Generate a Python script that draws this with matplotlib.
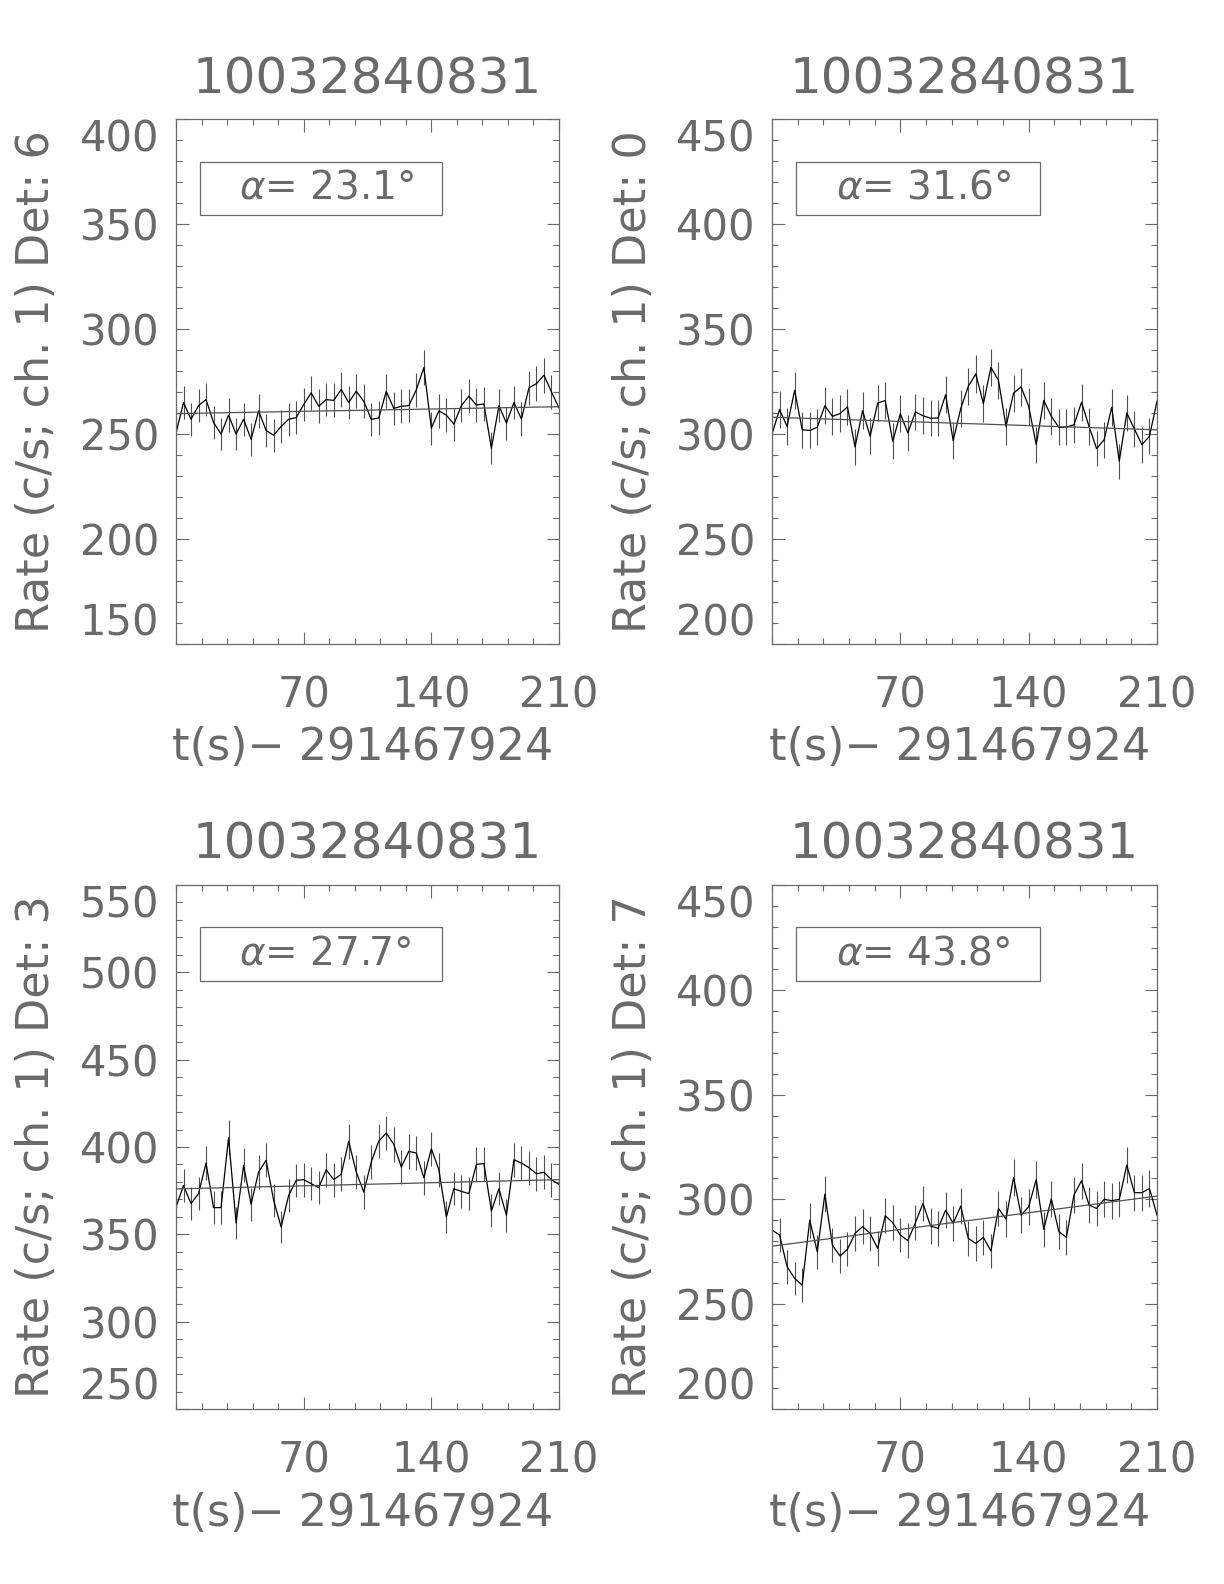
import numpy as np
import matplotlib
matplotlib.use('Agg')
import matplotlib.pyplot as plt
from matplotlib.patches import Rectangle
from matplotlib.ticker import MultipleLocator

# bin width (s) and time offset
bin_width = 4.096
t0_label = 't(s)\u2212 291467924'
burst_id = '10032840831'

# Rates (c/s, channel 1)
rate_det6 = [250.4, 265.0, 257.0, 263.5, 266.4, 255.5, 250.0, 259.0, 250.0, 257.0,
             247.5, 261.0, 251.7, 249.4, 253.6, 257.0, 257.8, 264.0, 269.6, 263.2,
             266.4, 266.0, 271.2, 265.0, 270.4, 265.6, 257.0, 257.6, 270.3, 262.2,
             263.2, 263.5, 271.0, 281.6, 252.8, 261.0, 259.0, 254.7, 263.5, 268.0,
             263.8, 264.3, 243.2, 263.5, 255.2, 265.0, 257.1, 272.0, 274.0, 278.0,
             270.0, 262.4]
rate_det0 = [300.0, 311.6, 303.6, 320.8, 302.0, 301.7, 303.2, 313.5, 308.4, 309.7,
             312.9, 293.8, 311.1, 298.9, 314.8, 315.9, 296.5, 309.7, 300.5, 310.5,
             308.7, 307.5, 307.6, 318.7, 296.8, 312.1, 322.7, 328.6, 314.4, 331.7,
             325.6, 303.6, 319.5, 322.4, 313.2, 294.9, 316.0, 308.4, 303.2, 303.3,
             304.4, 315.1, 303.6, 293.0, 297.3, 312.7, 287.0, 310.0, 302.4, 294.9,
             298.9, 315.6]
rate_det3 = [365.6, 378.0, 367.6, 373.3, 390.8, 365.3, 365.3, 405.3, 356.5, 389.5,
             367.2, 385.7, 392.4, 369.5, 354.2, 372.3, 380.9, 381.3, 379.0, 376.7,
             387.0, 381.3, 384.4, 403.2, 385.7, 374.2, 391.4, 403.4, 408.0, 401.5,
             388.5, 397.5, 396.6, 382.4, 399.0, 387.0, 359.9, 376.1, 374.6, 373.3,
             390.1, 390.5, 363.4, 376.1, 360.9, 392.7, 390.8, 388.2, 384.7, 385.5,
             381.3, 378.6]
rate_det7 = [285.4, 283.0, 267.9, 262.3, 259.1, 290.1, 275.0, 302.5, 278.2, 273.0,
             276.2, 283.8, 287.0, 283.8, 276.6, 292.2, 288.9, 283.0, 280.3, 288.9,
             298.1, 287.3, 286.2, 294.9, 288.6, 296.8, 281.4, 279.0, 281.9, 275.4,
             295.7, 290.6, 310.5, 292.5, 296.5, 309.5, 285.7, 300.3, 284.6, 281.9,
             302.1, 308.9, 297.3, 295.7, 300.0, 299.4, 300.0, 316.4, 303.2, 303.2,
             305.2, 292.5]

# background fit at the start and end of the window
fit_det6 = [259.7, 263.0]
fit_det0 = [308.0, 302.0]
fit_det3 = [376.0, 381.3]
fit_det7 = [277.7, 301.6]

detectors = ['6', '0', '3', '7']
alphas = ['23.1', '31.6', '27.7', '43.8']
rates = [rate_det6, rate_det0, rate_det3, rate_det7]
fits = [fit_det6, fit_det0, fit_det3, fit_det7]
ylims = [(150, 400), (200, 450), (250, 550), (200, 450)]
xticks = [70, 140, 210]

W, H = 1224, 1584
fig = plt.figure(figsize=(W / 100, H / 100), dpi=100)

txt_col = '#6a6a6a'
ax_col = '#6a6a6a'

# panel boxes in pixels: left, top, right, bottom
boxes = [(176, 119, 559, 644), (772, 119, 1157, 644),
         (176, 885, 559, 1409), (772, 885, 1157, 1409)]

for i in range(4):
    l, t, r, b = boxes[i]
    ax = fig.add_axes([l / W, 1 - b / H, (r - l) / W, (b - t) / H])
    y = np.array(rates[i])
    n = len(y)
    tmax = 210.0
    tt = np.linspace(0, tmax, n)
    err = np.sqrt(y / bin_width)

    ax.vlines(tt, y - err, y + err, color='#505050', lw=0.8)
    ax.plot(tt, y, color='black', lw=0.9)
    ax.plot([0, tmax], fits[i], color='#505050', lw=0.9)

    lo, hi = ylims[i]
    ax.set_xlim(0, tmax)
    ax.set_ylim(lo, hi)
    ax.set_xticks(xticks)
    ax.xaxis.set_minor_locator(MultipleLocator(14))
    ax.set_yticks(np.arange(lo, hi + 1, 50))
    ax.yaxis.set_minor_locator(MultipleLocator(10))
    ax.tick_params(which='both', direction='in', top=True, right=True,
                   color=ax_col, width=0.8)
    ax.tick_params(which='major', length=9)
    ax.tick_params(which='minor', length=4)
    ax.tick_params(axis='y', labelsize=30, pad=12, labelcolor=txt_col)
    ax.tick_params(axis='x', labelsize=30, pad=22, labelcolor=txt_col)
    ylabs = ax.get_yticklabels()
    ylabs[0].set_va('bottom')
    ylabs[-1].set_va('top')
    for s in ax.spines.values():
        s.set_color(ax_col)
        s.set_linewidth(0.9)

    ax.add_patch(Rectangle((0.063, 0.817), 0.632, 0.102, transform=ax.transAxes,
                           fill=False, ec=ax_col, lw=0.9))
    ax.text(0.165, 0.869, r'$\mathit{\alpha}$= ' + alphas[i] + '\u00b0',
            transform=ax.transAxes, fontsize=28, color=txt_col,
            va='center', ha='left')

    cx = (l + r) / 2 / W
    fig.text(cx, 1 - (t - 40) / H, burst_id, fontsize=36, color=txt_col,
             ha='center', va='center')
    fig.text(cx - 0.004, 1 - (b + 104) / H, t0_label, fontsize=32,
             color=txt_col, ha='center', va='center')
    fig.text((l - 139) / W, 1 - (t + b) / 2 / H,
             'Rate (c/s; ch. 1) Det: ' + detectors[i], rotation=90, fontsize=32,
             color=txt_col, ha='center', va='center')

fig.savefig('out.png', dpi=100)
